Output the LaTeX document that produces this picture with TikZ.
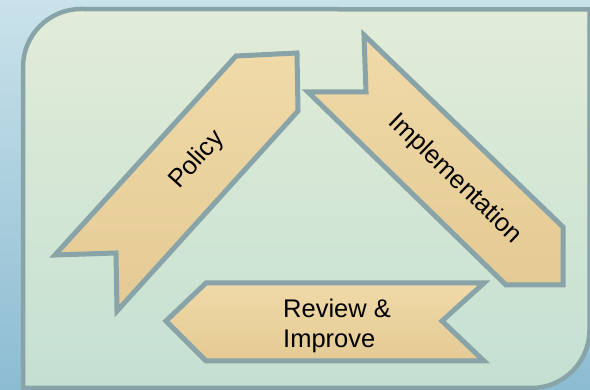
\documentclass[tikz,border=0pt]{standalone}
\usepackage{fontspec}
\setmainfont{Liberation Sans}
\definecolor{bgtop}{RGB}{202,226,234}
\definecolor{bgbot}{RGB}{140,188,210}
\definecolor{frtop}{RGB}{226,236,216}
\definecolor{frbot}{RGB}{196,224,210}
\definecolor{edgec}{RGB}{136,164,168}
\definecolor{papyA}{RGB}{240,218,168}
\definecolor{papyB}{RGB}{228,202,148}
\tikzset{
  arrowbox/.style={draw=edgec, line width=5pt, line join=miter, top color=papyA, bottom color=papyB},
  lbl/.style={inner sep=0pt, font=\fontsize{25.5}{30}\selectfont, text=black}
}
\begin{document}
\begin{tikzpicture}[x=1pt,y=-1pt]
\useasboundingbox (0,0) rectangle (590,390);
\shade[top color=bgtop, bottom color=bgbot] (0,0) rectangle (590,390);
% frame
\draw[draw=edgec, line width=4.5pt, line join=miter, top color=frtop, bottom color=frbot]
  (23,390) -- (23,67) arc (180:270:58) -- (589.5,9.5) -- (589.5,330) arc (0:90:58) -- (23,388) -- cycle;
% Policy arrow
\draw[arrowbox] (297,53) -- (236,56) -- (55,255) -- (116,253) -- (117,311) -- (298,111) -- cycle;
% Implementation arrow
\draw[arrowbox] (364,35) -- (366,92) -- (308,92) -- (506,285) -- (563,285) -- (563,227) -- cycle;
% Review arrow
\draw[arrowbox] (166,321) -- (206,283) -- (484,283) -- (442,321) -- (484,361) -- (206,361) -- cycle;
% labels
\node[lbl, rotate=47.8] (policy) at (197,160) {Policy};
\node[lbl, rotate=-44.1] (impl) at (455,179) {Implementation};
\node[lbl, align=left, anchor=north west] (review) at (283,299) {Review \&\\Improve};
\end{tikzpicture}
\end{document}
